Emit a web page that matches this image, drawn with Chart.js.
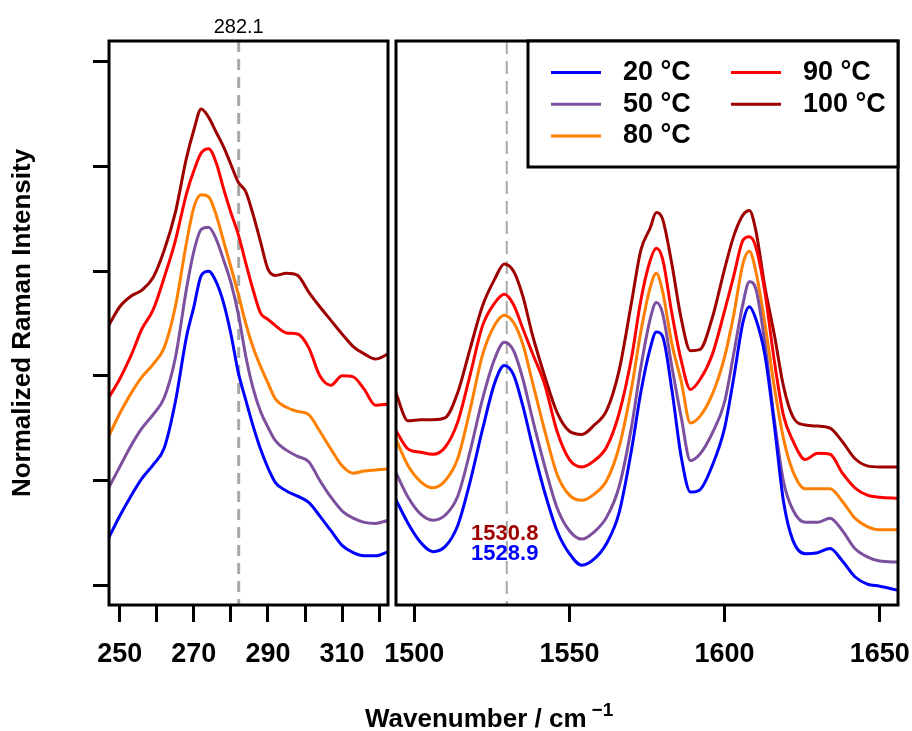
<!DOCTYPE html>
<html>
<head>
<meta charset="utf-8">
<script src="https://cdn.jsdelivr.net/npm/chart.js@4.4.0/dist/chart.umd.min.js"></script>
<style>
  html, body { margin: 0; padding: 0; background: #fff; }
  #wrap { position: relative; width: 912px; height: 731px; overflow: hidden; }
  canvas { position: absolute; top: 0; }
  #left { left: 0; }
  #right { left: 380px; }
  #xtitle {
    position: absolute; left: 365px; top: 705px;
    font: bold 26px "Liberation Sans", Arial, sans-serif; line-height: 27px;
    white-space: nowrap; color: #000;
  }
  #xtitle span { position: relative; top: -11px; font-size: 19px; margin-left: 5px; }
</style>
</head>
<body>
<div id="wrap">
  <canvas id="left" width="392" height="731"></canvas>
  <canvas id="right" width="532" height="731"></canvas>
  <div id="xtitle">Wavenumber / cm<span>−1</span></div>
</div>
<script>
  // *****************Data*****************
  const SERIES = ["20 °C", "50 °C", "80 °C", "90 °C", "100 °C"];

  // low wavenumber region
  const LEFT_X = [247, 250, 253, 256, 259, 262, 265, 268, 270, 272, 274, 276, 278, 280, 282,
    284, 286, 288, 290, 292, 295, 298, 301, 304, 307, 310, 313, 316, 319, 322.5];
  const LEFT_20 = [0.45, 0.66, 0.85, 1.02, 1.15, 1.31, 1.75, 2.37, 2.66, 2.96, 3.00, 2.90, 2.70, 2.40, 2.03,
    1.77, 1.52, 1.30, 1.12, 0.98, 0.90, 0.85, 0.79, 0.66, 0.52, 0.38, 0.31, 0.28, 0.28, 0.32];
  const LEFT_50 = [0.93, 1.13, 1.33, 1.50, 1.63, 1.79, 2.17, 2.83, 3.19, 3.40, 3.42, 3.31, 3.11, 2.89, 2.59,
    2.19, 1.88, 1.66, 1.51, 1.38, 1.29, 1.23, 1.18, 1.00, 0.84, 0.71, 0.64, 0.60, 0.59, 0.62];
  const LEFT_80 = [1.42, 1.64, 1.83, 1.99, 2.11, 2.27, 2.66, 3.27, 3.61, 3.73, 3.71, 3.54, 3.29, 3.04, 2.78,
    2.50, 2.27, 2.09, 1.93, 1.78, 1.70, 1.66, 1.63, 1.47, 1.30, 1.14, 1.07, 1.09, 1.10, 1.11];
  const LEFT_90 = [1.79, 1.97, 2.19, 2.45, 2.63, 2.94, 3.29, 3.74, 3.96, 4.13, 4.17, 4.04, 3.79, 3.56, 3.35,
    3.08, 2.82, 2.60, 2.54, 2.48, 2.41, 2.40, 2.27, 2.00, 1.91, 2.00, 1.99, 1.87, 1.72, 1.73];
  const LEFT_100 = [2.48, 2.66, 2.76, 2.82, 2.94, 3.20, 3.56, 4.08, 4.35, 4.55, 4.47, 4.33, 4.19, 4.02, 3.85,
    3.76, 3.54, 3.28, 3.02, 2.96, 2.98, 2.96, 2.80, 2.66, 2.53, 2.40, 2.28, 2.21, 2.16, 2.21];

  // high wavenumber region
  const RIGHT_X = [1494, 1498, 1502, 1506, 1510, 1514, 1518, 1522, 1526, 1529, 1532, 1535, 1538, 1542,
    1546, 1550, 1554, 1558, 1562, 1566, 1570, 1573, 1576, 1578, 1580, 1583, 1586, 1589, 1592, 1596,
    1600, 1603, 1606, 1608, 1610, 1613, 1616, 1619, 1622, 1626, 1630, 1634, 1638, 1642, 1646, 1650, 1656];
  const RIGHT_20 = [0.82, 0.59, 0.41, 0.32, 0.37, 0.57, 0.99, 1.49, 1.94, 2.10, 2.01, 1.71, 1.34, 0.89,
    0.52, 0.30, 0.19, 0.25, 0.40, 0.69, 1.29, 1.84, 2.26, 2.42, 2.38, 1.87, 1.23, 0.89, 0.91, 1.14,
    1.50, 1.99, 2.52, 2.66, 2.55, 2.20, 1.54, 0.80, 0.43, 0.30, 0.31, 0.35, 0.23, 0.08, 0.01, -0.01, -0.05];
  const RIGHT_50 = [1.08, 0.84, 0.68, 0.62, 0.67, 0.85, 1.28, 1.78, 2.17, 2.32, 2.24, 1.97, 1.60, 1.14,
    0.74, 0.52, 0.44, 0.51, 0.65, 0.94, 1.51, 2.08, 2.54, 2.70, 2.60, 2.09, 1.61, 1.19, 1.25, 1.45,
    1.75, 2.22, 2.70, 2.90, 2.84, 2.31, 1.59, 0.99, 0.72, 0.60, 0.60, 0.64, 0.52, 0.35, 0.27, 0.23, 0.22];
  const RIGHT_80 = [1.40, 1.14, 0.99, 0.93, 1.00, 1.21, 1.68, 2.20, 2.49, 2.58, 2.51, 2.30, 1.95, 1.48,
    1.06, 0.86, 0.81, 0.87, 1.00, 1.32, 1.88, 2.42, 2.84, 2.98, 2.81, 2.31, 1.95, 1.55, 1.61, 1.82,
    2.18, 2.59, 3.08, 3.19, 3.01, 2.50, 1.90, 1.40, 1.09, 0.92, 0.92, 0.92, 0.80, 0.64, 0.56, 0.53, 0.53];
  const RIGHT_90 = [1.48, 1.30, 1.27, 1.25, 1.32, 1.56, 2.01, 2.48, 2.70, 2.78, 2.68, 2.45, 2.22, 1.92,
    1.47, 1.20, 1.13, 1.19, 1.32, 1.64, 2.17, 2.72, 3.10, 3.22, 3.12, 2.60, 2.15, 1.87, 1.96, 2.20,
    2.62, 2.96, 3.30, 3.33, 3.24, 2.80, 2.15, 1.62, 1.38, 1.20, 1.26, 1.25, 1.07, 0.93, 0.86, 0.84, 0.83];
  const RIGHT_100 = [1.84, 1.57, 1.58, 1.58, 1.60, 1.84, 2.26, 2.67, 2.93, 3.07, 3.00, 2.76, 2.40, 2.00,
    1.65, 1.47, 1.44, 1.53, 1.67, 2.05, 2.70, 3.20, 3.41, 3.56, 3.50, 3.07, 2.55, 2.24, 2.25, 2.55,
    3.02, 3.34, 3.54, 3.58, 3.40, 2.85, 2.40, 1.90, 1.61, 1.53, 1.52, 1.50, 1.37, 1.21, 1.14, 1.13, 1.13];

  const Y_TICKS = [0, 1, 2, 3, 4, 5];
  const LEFT_TICKS = [250, 260, 270, 280, 290, 300, 310, 320];
  const LEFT_TICK_LABELS = [250, 270, 290, 310];
  const RIGHT_TICKS = [1500, 1550, 1600, 1650];
  const RIGHT_TICK_LABELS = [1500, 1550, 1600, 1650];

  const LEFT_PEAK = 282.1;
  const RIGHT_PEAK = 1529.8;
  const PEAK_NOTES = [
    { text: "1530.8", series: 4, y: 0.49 },
    { text: "1528.9", series: 0, y: 0.30 },
  ];

  // *****************Styles*****************
  const COLORS = ["#0000ff", "#7d4f9f", "#ff7f00", "#ff0000", "#9e0000"];
  const FONT = '"Liberation Sans", Arial, Helvetica, sans-serif';
  Chart.defaults.font.family = FONT;
  Chart.defaults.color = "#000";

  const buildDatasets = (xs, ys) =>
    ys.map((arr, k) => ({
      label: SERIES[k],
      data: xs.map((x, i) => ({ x: x, y: arr[i] })),
      borderColor: COLORS[k],
      backgroundColor: COLORS[k],
      borderWidth: 3,
      pointRadius: 0,
      cubicInterpolationMode: "monotone",
      fill: false,
      clip: 0,
    }));

  // box round the plot area
  const frame = {
    id: "frame",
    afterDatasetsDraw(chart) {
      const { ctx, chartArea: a } = chart;
      ctx.save();
      ctx.strokeStyle = "#000";
      ctx.lineWidth = 3;
      ctx.strokeRect(a.left, a.top, a.right - a.left, a.bottom - a.top);
      ctx.restore();
    },
  };

  // dashed line at a peak position, with its value(s)
  const refLine = {
    id: "refLine",
    beforeDatasetsDraw(chart, args, o) {
      const { ctx, chartArea: a, scales } = chart;
      const x = scales.x.getPixelForValue(o.value);
      ctx.save();
      ctx.strokeStyle = "#a8a8a8";
      ctx.lineWidth = o.width;
      ctx.setLineDash(o.dash);
      ctx.beginPath();
      ctx.moveTo(x, a.top);
      ctx.lineTo(x, a.bottom);
      ctx.stroke();
      ctx.restore();
    },
    afterDatasetsDraw(chart, args, o) {
      const { ctx, chartArea: a, scales } = chart;
      const x = scales.x.getPixelForValue(o.value);
      ctx.save();
      ctx.textAlign = "center";
      if (o.title) {
        ctx.fillStyle = "#000";
        ctx.font = "20px " + FONT;
        ctx.textBaseline = "alphabetic";
        ctx.fillText(o.title, x, a.top - 8);
      }
      (o.notes || []).forEach((n) => {
        ctx.fillStyle = COLORS[n.series];
        ctx.font = "bold 22px " + FONT;
        ctx.textBaseline = "middle";
        ctx.fillText(n.text, x - 2, scales.y.getPixelForValue(n.y));
      });
      ctx.restore();
    },
  };

  // legend box in the top right corner, two columns
  const legendBox = {
    id: "legendBox",
    afterDraw(chart) {
      const { ctx, chartArea: a } = chart;
      const left = a.right - 370, top = a.top, h = 126;
      ctx.save();
      ctx.fillStyle = "#fff";
      ctx.fillRect(left, top, a.right - left, h);
      ctx.strokeStyle = "#000";
      ctx.lineWidth = 3;
      ctx.strokeRect(left, top, a.right - left, h);
      ctx.font = "bold 27px " + FONT;
      ctx.textBaseline = "middle";
      ctx.textAlign = "left";
      SERIES.forEach((name, k) => {
        const col = k < 3 ? 0 : 1;
        const row = k < 3 ? k : k - 3;
        const x = left + 23 + col * 180;
        const y = top + 31.5 + row * 31.7;
        ctx.strokeStyle = COLORS[k];
        ctx.lineWidth = 3;
        ctx.beginPath();
        ctx.moveTo(x, y);
        ctx.lineTo(x + 50, y);
        ctx.stroke();
        ctx.fillStyle = "#000";
        ctx.fillText(name, x + 72, y);
      });
      ctx.restore();
    },
  };

  const xScale = (min, max, ticks, labels) => ({
    type: "linear",
    min: min,
    max: max,
    afterBuildTicks: (s) => { s.ticks = ticks.map((v) => ({ value: v })); },
    afterFit: (s) => {
      s.height = 126;
      // the panel edges are fixed by the layout padding, not by the label widths
      s.paddingLeft = 0;
      s.paddingRight = 0;
    },
    ticks: {
      autoSkip: false,
      maxRotation: 0,
      padding: 16,
      color: "#000",
      font: { size: 27, weight: "bold" },
      callback: (v) => (labels.includes(v) ? String(v) : ""),
    },
    grid: { drawOnChartArea: false, tickLength: 17, tickWidth: 3, tickColor: "#000" },
    border: { display: false },
  });

  const Y_MIN = -0.19, Y_MAX = 5.2;

  //   **************LEFT PANEL*****************
  new Chart(document.getElementById("left"), {
    type: "line",
    data: { datasets: buildDatasets(LEFT_X, [LEFT_20, LEFT_50, LEFT_80, LEFT_90, LEFT_100]) },
    plugins: [refLine, frame],
    options: {
      responsive: false,
      animation: false,
      layout: { padding: { left: 0, right: 4, top: 41, bottom: 0 } },
      scales: {
        x: xScale(247.1, 322.4, LEFT_TICKS, LEFT_TICK_LABELS),
        y: {
          min: Y_MIN,
          max: Y_MAX,
          afterBuildTicks: (s) => { s.ticks = Y_TICKS.map((v) => ({ value: v })); },
          afterFit: (s) => { s.width = 109; s.paddingTop = 0; s.paddingBottom = 0; },
          ticks: { display: false },
          grid: { drawOnChartArea: false, tickLength: 16, tickWidth: 3, tickColor: "#000" },
          border: { display: false },
          title: {
            display: true,
            text: "Normalized Raman Intensity",
            color: "#000",
            font: { size: 26, weight: "bold" },
            padding: { top: 7, bottom: 0 },
          },
        },
      },
      plugins: {
        legend: { display: false },
        tooltip: { enabled: false },
        refLine: { value: LEFT_PEAK, width: 3, dash: [11, 7], title: String(LEFT_PEAK) },
      },
    },
  });

  //   **************RIGHT PANEL*****************
  new Chart(document.getElementById("right"), {
    type: "line",
    data: { datasets: buildDatasets(RIGHT_X, [RIGHT_20, RIGHT_50, RIGHT_80, RIGHT_90, RIGHT_100]) },
    plugins: [refLine, frame, legendBox],
    options: {
      responsive: false,
      animation: false,
      layout: { padding: { left: 16, right: 14, top: 41, bottom: 0 } },
      scales: {
        x: xScale(1494.1, 1655.9, RIGHT_TICKS, RIGHT_TICK_LABELS),
        y: { display: false, min: Y_MIN, max: Y_MAX },
      },
      plugins: {
        legend: { display: false },
        tooltip: { enabled: false },
        refLine: { value: RIGHT_PEAK, width: 2, dash: [13, 7], notes: PEAK_NOTES },
      },
    },
  });
</script>
</body>
</html>
